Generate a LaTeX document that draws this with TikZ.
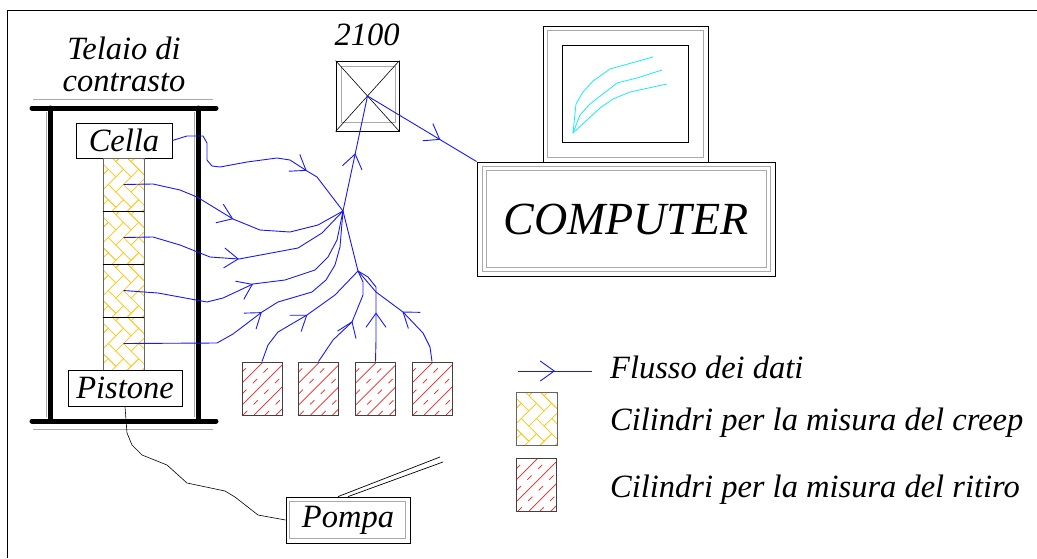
\documentclass[tikz,border=0pt]{standalone}
\usepackage{fontspec}
\setmainfont{Liberation Serif}
\usetikzlibrary{arrows.meta,decorations.markings,calc}
\definecolor{flowblue}{RGB}{25,25,240}
\definecolor{creepyellow}{RGB}{255,200,30}
\definecolor{ritirored}{RGB}{245,30,30}
\definecolor{screencyan}{RGB}{20,235,245}
\definecolor{lightframe}{RGB}{170,170,170}
\begin{document}
\begin{tikzpicture}[x=1pt,y=-1pt,
  txt/.style={font=\fontsize{32.5}{32}\selectfont\itshape, inner sep=0pt},
  box/.style={draw=black, line width=0.8pt, inner sep=0pt, txt},
  flow/.style={draw=flowblue, line width=0.9pt, line join=round},
  flowarrow/.style={postaction={decorate}, decoration={markings,
      mark=at position #1 with {\arrow[flowblue, line width=0.9pt]{Straight Barb[length=14pt,width=20pt]}}}},
  bar/.style={line width=5pt, line cap=round},
  % herringbone fill on 45-degree axes, drawn about the node centre
  creep/.style={draw=black!60, line width=0.8pt, inner sep=0pt, minimum width=41, minimum height=53,
    path picture={
      \begin{scope}[x={(7.6pt,7.6pt)}, y={(7.6pt,-7.6pt)}]
        \foreach \k in {-5,...,5}{
          \foreach \m in {-3,...,3}{
            \draw[creepyellow, line width=0.6pt]
              (\k+2*\m,\k-2*\m) -- ++(2,0) -- ++(0,1) -- ++(-2,0) -- cycle;
            \draw[creepyellow, line width=0.6pt]
              (\k+2*\m,\k-2*\m+1) -- ++(1,0) -- ++(0,2) -- ++(-1,0) -- cycle;
          }
        }
      \end{scope}
    }},
  % alternating solid and dashed hatching, drawn about the node centre
  ritiro/.style={draw=black!75, line width=1pt, inner sep=0pt, minimum width=40, minimum height=53,
    path picture={
      \foreach \k in {-4,...,2}{
        \draw[ritirored, line width=0.7pt] (\k*22-8,26.5) -- ++(70,-70);
        \draw[ritirored, line width=0.7pt, dash pattern=on 6pt off 9pt] (\k*22+3,26.5) -- ++(70,-70);
      }
    }}
]
\useasboundingbox (0,0) rectangle (1037,558);

% outer frame
\draw[line width=0.8pt] (7,558) -- (7,10) -- (1037,10);

% reaction frame
\node[txt, align=center] (telaio) at (124,64) {Telaio di\\contrasto};
\draw[lightframe, line width=0.8pt] (33,99) -- (213,99);
\draw[lightframe, line width=0.8pt] (33,429) -- (213,429);
\draw[lightframe, line width=0.8pt] (46,112) -- (46,417);
\draw[lightframe, line width=0.8pt] (194,112) -- (194,417);
\draw[bar] (32,108) -- (216,108);
\draw[bar] (32,421) -- (216,421);
\draw[bar] (50,108) -- (50,421);
\draw[bar] (198,108) -- (198,421);

% load cell, creep cylinders, piston
\node[box, minimum width=96, minimum height=35] (cella) at (124,140.5) {Cella};
\node[creep] (c1) at (123.5,184.5) {};
\node[creep] (c2) at (123.5,237.5) {};
\node[creep] (c3) at (123.5,290.5) {};
\node[creep] (c4) at (123.5,343.5) {};
\draw[black, line width=0.8pt] (c1.south west) -- (c1.south east);
\draw[black, line width=0.8pt] (c2.south west) -- (c2.south east);
\draw[black, line width=0.8pt] (c3.south west) -- (c3.south east);
\node[box, minimum width=114, minimum height=36] (pistone) at (125,388) {Pistone};

% shrinkage cylinders
\node[ritiro] (r1) at (262,388.5) {};
\node[ritiro] (r2) at (318.5,388.5) {};
\node[ritiro] (r3) at (375.5,388.5) {};
\node[ritiro] (r4) at (432,388.5) {};

% pump
\node[box, minimum width=124, minimum height=46] (pompa) at (348,520) {Pompa};
\draw[lightframe, line width=0.8pt] ($(pompa.north west)+(4,5)$) rectangle ($(pompa.south east)+(-5,-5)$);
\coordinate (hoseA) at (440,457);
\coordinate (hoseB) at (443,462);
\draw[line width=0.7pt] ($(pompa.north)+(-10,0)$) -- (hoseA);
\draw[line width=0.7pt] (pompa.north) -- (hoseB);
\draw[line width=0.6pt, line join=round] (pistone.south) -- (127,433) -- (132,445) -- (142,455) -- (167,465)
  -- (187,483) -- (225,491) -- (235,497) -- (258,515) -- (pompa.west);

% data logger 2100
\node[txt] (dl) at (367,35) {2100};
\node[draw=black, line width=0.9pt, minimum width=63, minimum height=70, inner sep=0pt] (sensor) at (367.5,96) {};
\draw[lightframe, line width=0.8pt] (341,66) rectangle (395,122);
\draw[line width=0.6pt] (sensor.north west) -- (sensor.south east);
\draw[line width=0.6pt] (sensor.north east) -- (sensor.south west);

% monitor
\node[draw=black, line width=0.9pt, minimum width=165, minimum height=136, inner sep=0pt] (monitor) at (625.5,94) {};
\draw[lightframe, line width=0.9pt] ($(monitor.north west)+(5,5)$) rectangle ($(monitor.south east)+(-5,-5)$);
\draw[line width=0.8pt] ($(monitor.north west)+(20,20)$) rectangle ($(monitor.south east)+(-20,-20)$);
\draw[screencyan, line width=0.8pt] (573,133) -- (576,104) -- (583,92) -- (593,81) -- (610,69) -- (653,57);
\draw[screencyan, line width=0.8pt] (573,133) -- (580,115) -- (590,104) -- (617,83) -- (637,78) -- (662,70);
\draw[screencyan, line width=0.8pt] (573,133) -- (600,108) -- (613,99) -- (630,92) -- (667,84);

% computer
\node[draw=black, line width=0.9pt, minimum width=298, minimum height=114, inner sep=0pt,
  font=\fontsize{46}{46}\selectfont\itshape] (computer) at (626,219) {COMPUTER};
\draw[lightframe, line width=0.9pt] ($(computer.north west)+(6,5)$) rectangle ($(computer.south east)+(-5,-5)$);
\draw[lightframe, line width=0.9pt] ($(computer.north west)+(10,9)$) rectangle ($(computer.south east)+(-9,-9)$);

% data flow
\coordinate (hubA) at (343,211);
\coordinate (hubB) at (358,271);
\draw[flow, flowarrow=163pt] (cella.east) -- (187,136) -- (203,136) -- (207,143) -- (207,160) -- (212,166)
  -- (220,167) -- (247,162) -- (277,158) -- (290,160) -- (307,171) -- (317,177) -- (hubA);
\draw[flow, flowarrow=118pt] (c1.center) -- (153,184) -- (180,190) -- (197,197) -- (233,219) -- (260,230)
  -- (290,232) -- (318,225) -- (hubA);
\draw[flow, flowarrow=119pt] (c2.center) -- (153,237) -- (180,245) -- (210,257) -- (239,259) -- (298,248)
  -- (322,233) -- (hubA);
\draw[flow, flowarrow=134pt] (c3.center) -- (158,293) -- (207,302) -- (223,298) -- (253,284) -- (285,280)
  -- (315,270) -- (328,257) -- (337,240) -- (hubA);
\draw[flow, flowarrow=148pt] (c4.center) -- (217,343) -- (233,334) -- (262,312) -- (278,302) -- (312,292)
  -- (326,280) -- (335,265) -- (340,247) -- (hubA);
\draw[flow, flowarrow=68pt] (r1.north) -- (268,345) -- (278,332) -- (307,315) -- (335,295) -- (hubB);
\draw[flow, flowarrow=53pt] (r2.north) -- (333,340) -- (352,322) -- (363,295) -- (363,282) -- (hubB);
\draw[flow, flowarrow=49pt] (r3.north) -- (376,340) -- (376,313) -- (376,287) -- (368,277) -- (hubB);
\draw[flow, flowarrow=60pt] (r4.north) -- (430,347) -- (423,333) -- (403,312) -- (376,292) -- (hubB);
\draw[flow] (hubB) -- (hubA);
\draw[flow, flowarrow=59pt] (hubA) -- (sensor.center);
\draw[flow, flowarrow=85pt] (sensor.center) -- (computer.north west);

% legend
\coordinate (legA) at (518,371);
\coordinate (legB) at (592,371);
\draw[flow, flowarrow=37pt] (legA) -- (legB);
\node[txt, anchor=base west] (legflow) at (610,378) {Flusso dei dati};
\node[creep] (legcreep) at (536.5,418.5) {};
\node[txt, anchor=base west] (legcreeptxt) at (610,430) {Cilindri per la misura del creep};
\node[ritiro] (legritiro) at (536.5,485) {};
\node[txt, anchor=base west] (legritirotxt) at (610,497) {Cilindri per la misura del ritiro};
\end{tikzpicture}
\end{document}
